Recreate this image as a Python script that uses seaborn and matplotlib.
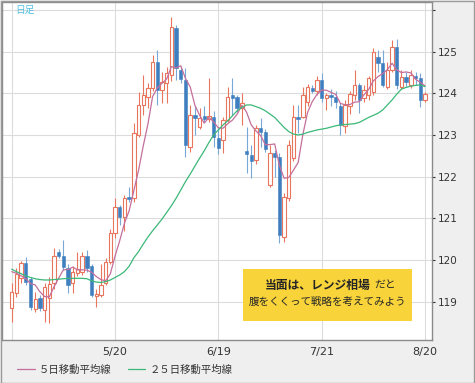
import numpy as np
import pandas as pd
import matplotlib.pyplot as plt
import matplotlib.patches as patches
import seaborn as sns

# Daily USD/JPY candles (4/20 .. 8/20)
opens = [118.84, 119.20, 119.56, 119.92, 119.55, 118.82, 119.08, 118.80, 119.08, 119.44,
         120.18, 120.10, 119.80, 119.44, 119.68, 119.72, 120.10, 119.86, 119.14, 119.15,
         119.44, 119.96, 120.64, 121.28, 121.04, 121.52, 121.48, 123.00, 123.72, 123.92,
         124.12, 124.76, 124.08, 124.24, 124.44, 125.56, 124.56, 124.32, 122.72, 123.48,
         123.20, 123.45, 123.38, 123.42, 122.92, 122.88, 123.36, 123.96, 123.90, 123.64,
         122.62, 122.52, 122.40, 123.16, 123.08, 121.80, 122.56, 122.48, 120.56, 121.48,
         122.44, 123.42, 123.44, 123.80, 124.12, 124.06, 124.32, 123.88, 123.96, 123.92,
         123.70, 123.22, 123.70, 123.96, 124.20, 123.88, 123.96, 124.04, 124.86, 124.72,
         124.16, 124.56, 125.12, 124.16, 124.40, 124.20, 124.42, 124.36, 123.84]
highs = [119.44, 119.80, 119.98, 120.07, 119.60, 119.22, 119.15, 119.44, 119.60, 120.28,
         120.26, 120.48, 119.90, 119.85, 120.20, 120.20, 120.25, 119.90, 119.30, 119.90,
         120.05, 120.75, 121.48, 121.32, 121.56, 121.76, 123.28, 124.04, 124.44, 124.24,
         124.92, 125.04, 124.52, 124.64, 125.84, 125.64, 124.64, 124.60, 123.72, 123.70,
         123.65, 123.70, 124.36, 123.58, 123.20, 123.44, 124.16, 124.36, 123.96, 124.00,
         123.20, 122.76, 123.24, 123.40, 123.15, 122.75, 122.64, 122.56, 121.60, 122.88,
         123.72, 123.72, 124.16, 124.22, 124.20, 124.42, 124.48, 124.00, 124.10, 124.05,
         123.76, 123.84, 124.05, 124.56, 124.24, 124.20, 124.42, 125.08, 125.05, 125.04,
         124.76, 125.28, 125.30, 124.55, 124.50, 124.55, 124.50, 124.48, 124.02]
lows = [118.52, 119.12, 119.45, 119.40, 118.80, 118.75, 118.78, 118.52, 118.49, 119.30,
        120.05, 119.76, 119.20, 119.20, 119.62, 119.65, 119.72, 119.10, 118.88, 119.10,
        119.40, 119.90, 120.53, 120.84, 120.70, 121.38, 121.40, 122.95, 123.48, 123.64,
        124.05, 123.72, 123.76, 123.77, 124.30, 124.32, 124.25, 122.48, 122.60, 123.00,
        123.15, 123.30, 123.30, 122.70, 122.55, 122.56, 123.30, 123.48, 123.55, 123.24,
        122.08, 121.96, 122.30, 122.70, 122.60, 121.75, 122.00, 120.40, 120.44, 121.42,
        122.38, 123.05, 123.40, 123.70, 124.00, 123.95, 123.80, 123.60, 123.70, 123.65,
        123.00, 123.04, 123.50, 123.84, 123.52, 123.80, 123.85, 123.95, 124.50, 124.16,
        124.10, 124.50, 124.10, 124.10, 124.15, 124.12, 124.20, 123.68, 123.80]
closes = [119.22, 119.67, 119.92, 119.48, 118.88, 119.06, 118.84, 119.36, 119.42, 120.10,
          120.10, 119.84, 119.40, 119.70, 119.78, 120.10, 119.80, 119.16, 119.18, 119.40,
          119.96, 120.64, 121.28, 121.04, 121.48, 121.46, 123.04, 123.72, 123.96, 124.12,
          124.76, 124.08, 124.28, 124.48, 125.60, 124.60, 124.34, 122.76, 123.48, 123.40,
          123.40, 123.38, 123.45, 122.94, 122.68, 123.36, 123.92, 123.88, 123.64, 123.76,
          122.55, 122.38, 123.16, 123.08, 122.66, 122.56, 122.46, 120.60, 121.52, 122.76,
          123.44, 123.38, 123.96, 124.16, 124.05, 124.32, 123.88, 123.96, 123.90, 123.80,
          123.24, 123.72, 123.98, 124.20, 123.84, 124.08, 124.36, 125.00, 124.72, 124.20,
          124.56, 125.12, 124.20, 124.40, 124.28, 124.44, 124.36, 123.84, 123.98]
# first 5-day MA values as drawn (their window starts before the visible data)
ma5_head = [119.72, 119.68, 119.62, 119.55]
# 25-day moving average as drawn (needs history before the visible window)
ma25 = [119.78, 119.72, 119.67, 119.62, 119.58, 119.55, 119.53, 119.52, 119.52, 119.53,
        119.54, 119.55, 119.56, 119.56, 119.56, 119.56, 119.55, 119.50, 119.47, 119.46,
        119.48, 119.52, 119.58, 119.64, 119.72, 119.85, 120.05, 120.20, 120.38, 120.55,
        120.70, 120.84, 120.98, 121.14, 121.30, 121.48, 121.68, 121.88, 122.06, 122.25,
        122.44, 122.62, 122.82, 123.00, 123.12, 123.24, 123.34, 123.46, 123.58, 123.66,
        123.72, 123.72, 123.68, 123.64, 123.58, 123.50, 123.42, 123.30, 123.18, 123.08,
        123.02, 123.00, 123.02, 123.06, 123.09, 123.12, 123.14, 123.16, 123.19, 123.22,
        123.24, 123.25, 123.26, 123.27, 123.30, 123.36, 123.42, 123.47, 123.52, 123.60,
        123.72, 123.84, 123.98, 124.10, 124.14, 124.17, 124.19, 124.20, 124.16]

tick_pos = [0, 22, 44, 66, 88]
tick_labels = ['', '5/20', '6/19', '7/21', '8/20']
price_ticks = [119, 120, 121, 122, 123, 124, 125, 126]

df = pd.DataFrame({'open': opens, 'high': highs, 'low': lows, 'close': closes, 'ma25': ma25})
df['idx'] = np.arange(len(df))
df['ma5'] = df['close'].rolling(5).mean()
df.loc[:len(ma5_head) - 1, 'ma5'] = ma5_head

sns.set_style('white')
plt.rcParams['font.family'] = ['DejaVu Sans', 'Noto Sans CJK JP']

up_col = '#e8765c'
dn_col = '#3f7fbf'
dn_wick = '#7aa8d6'
ma5_col = '#c46f9c'
ma25_col = '#3cb878'

fig = plt.figure(figsize=(4.75, 3.83), dpi=100, facecolor='#efefef')
ax = fig.add_axes([2 / 475, 1 - 340 / 383, 430 / 475, 338 / 383])
ax.set_facecolor('white')

up = df[df['close'] >= df['open']]
dn = df[df['close'] < df['open']]

ax.vlines(up['idx'], up['low'], up['high'], color=up_col, lw=0.8, zorder=2)
ax.vlines(dn['idx'], dn['low'], dn['high'], color=dn_wick, lw=0.8, zorder=2)
ax.bar(up['idx'], np.maximum(up['close'] - up['open'], 0.03), bottom=up['open'],
       width=0.72, facecolor='white', edgecolor=up_col, lw=0.8, zorder=3)
ax.bar(dn['idx'], np.maximum(dn['open'] - dn['close'], 0.03), bottom=dn['close'],
       width=0.72, color=dn_col, edgecolor=dn_col, lw=0.4, zorder=3)

sns.lineplot(data=df, x='idx', y='ma5', color=ma5_col, lw=0.9, ax=ax, zorder=4,
             label='５日移動平均線')
sns.lineplot(data=df, x='idx', y='ma25', color=ma25_col, lw=0.9, ax=ax, zorder=4,
             label='２５日移動平均線')
handles, labels = ax.get_legend_handles_labels()
ax.get_legend().remove()

ax.set_xlim(-2.07, 89.5)
ax.set_ylim(118.08, 126.19)
ax.set_xticks(tick_pos)
ax.set_xticklabels(tick_labels)
ax.set_yticks(price_ticks)
ax.set_yticklabels([str(p) if p < 126 else '' for p in price_ticks])
ax.yaxis.tick_right()
ax.tick_params(axis='y', length=2, pad=2, labelsize=7.5, colors='#333333')
ax.tick_params(axis='x', length=0, pad=5, labelsize=8, colors='#333333')
ax.set_xlabel('')
ax.set_ylabel('')
ax.grid(True, color='#dcdcdc', lw=0.8)
ax.set_axisbelow(True)
for s in ax.spines.values():
    s.set_color('#8a8a8a')
    s.set_linewidth(1)

ax.text(13 / 430, 1 - 8 / 338, '日足', transform=ax.transAxes, fontsize=7,
        color='#4fbfe0', family=['Noto Sans CJK JP'], va='center', ha='left')

leg = fig.legend(handles, labels, loc='center left', bbox_to_anchor=(8 / 475, 1 - 370 / 383),
                 ncol=2, frameon=False, handlelength=1.7, handletextpad=0.4,
                 columnspacing=1.5, prop={'family': 'Noto Sans CJK JP', 'size': 7.5})
for t in leg.get_texts():
    t.set_color('#333333')

# yellow comment box
box = patches.Rectangle((243 / 475, 1 - 321 / 383), 169 / 475, 52 / 383,
                        transform=fig.transFigure, facecolor='#f8d33a', edgecolor='none',
                        zorder=5)
fig.patches.append(box)
fig.text(370 / 475, 1 - 285 / 383, '当面は、レンジ相場', ha='right', va='center',
         fontsize=8.5, fontweight='bold', family=['Noto Sans CJK JP'], zorder=6)
fig.text(374 / 475, 1 - 285 / 383, 'だと', ha='left', va='center',
         fontsize=7.8, family=['Noto Sans CJK JP'], zorder=6)
fig.text(327 / 475, 1 - 302 / 383, '腹をくくって戦略を考えてみよう', ha='center', va='center',
         fontsize=7.6, family=['Noto Sans CJK JP'], zorder=6)

border = patches.Rectangle((0.5 / 475, 0.5 / 383), 473.5 / 475, 382 / 383,
                           transform=fig.transFigure, fill=False, edgecolor='#9a9a9a', lw=1)
fig.patches.append(border)

fig.savefig('out.png', dpi=100, facecolor=fig.get_facecolor())
